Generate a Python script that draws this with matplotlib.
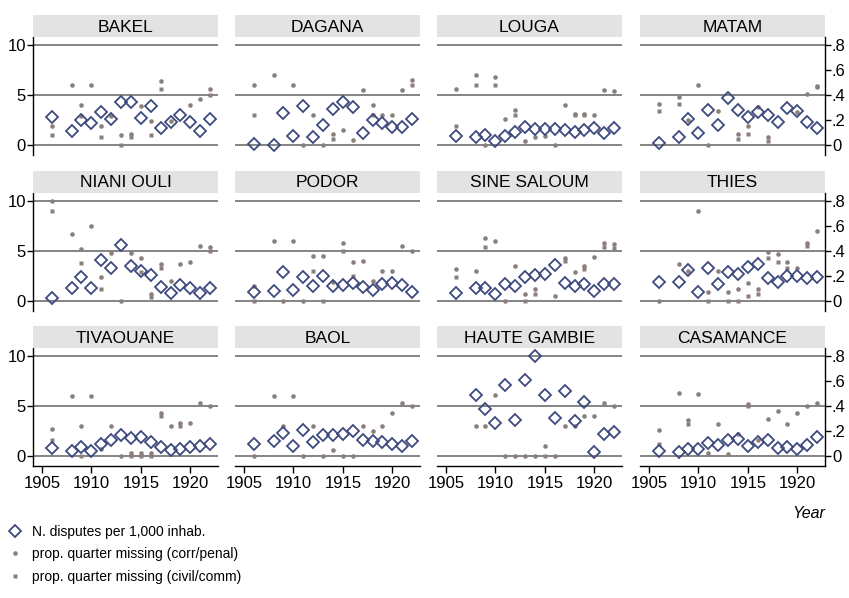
import numpy as np
import matplotlib
matplotlib.use('Agg')
import matplotlib.pyplot as plt
from matplotlib.lines import Line2D

plt.rcParams['font.family'] = ['Liberation Sans', 'DejaVu Sans']

nan = np.nan

# years with observations (1907 missing)
years = [1906] + list(range(1908, 1923))

districts = ['BAKEL', 'DAGANA', 'LOUGA', 'MATAM',
             'NIANI OULI', 'PODOR', 'SINE SALOUM', 'THIES',
             'TIVAOUANE', 'BAOL', 'HAUTE GAMBIE', 'CASAMANCE']

# N. disputes per 1,000 inhab. (left axis)
bakel_disp = [2.8, 1.43, 2.53, 2.17, 3.33, 2.63, 4.3, 4.3, 2.67, 3.93, 1.7, 2.33, 3.03, 2.27, 1.37, 2.63]
dagana_disp = [0.1, 0, 3.17, 0.9, 3.87, 0.83, 2.0, 3.6, 4.3, 3.83, 1.17, 2.53, 2.2, 1.8, 1.83, 2.57]
louga_disp = [0.87, 0.8, 1.0, 0.43, 0.93, 1.33, 1.83, 1.6, 1.63, 1.63, 1.5, 1.33, 1.47, 1.73, 1.17, 1.67]
matam_disp = [0.23, 0.83, 2.57, 1.17, 3.53, 2.0, 4.67, 3.53, 2.77, 3.3, 3.03, 2.27, 3.67, 3.43, 2.33, 1.7]
niani_disp = [0.23, 1.27, 2.37, 1.27, 4.03, 3.3, 5.57, 3.43, 2.93, 2.53, 1.37, 0.8, 1.6, 1.27, 0.8, 1.27]
podor_disp = [0.87, 1.0, 2.87, 1.1, 2.33, 1.5, 2.5, 1.43, 1.53, 1.77, 1.37, 1.07, 1.7, 1.77, 1.6, 0.9]
sine_disp = [0.8, 1.3, 1.3, 0.67, 1.67, 1.47, 2.37, 2.53, 2.67, 3.53, 1.73, 1.47, 1.63, 1.0, 1.67, 1.67]
thies_disp = [1.83, 1.9, 3.03, 0.87, 3.3, 1.7, 2.83, 2.67, 3.33, 3.7, 2.3, 1.83, 2.47, 2.43, 2.3, 2.33]
tivaouane_disp = [0.87, 0.53, 0.93, 0.5, 1.27, 1.67, 2.1, 1.87, 1.9, 1.43, 0.9, 0.67, 0.7, 0.97, 1.07, 1.23]
baol_disp = [1.27, 1.53, 2.33, 1.03, 2.6, 1.47, 2.17, 2.17, 2.27, 2.5, 1.67, 1.57, 1.47, 1.23, 1.03, 1.57]
hgambie_disp = [nan, 6.13, 4.77, 3.3, 7.13, 3.67, 7.63, 10.0, 6.13, 3.83, 6.53, 3.57, 5.43, 0.43, 2.2, 2.47]
casamance_disp = [0.53, 0.43, 0.73, 0.7, 1.37, 1.13, 1.6, 1.7, 1.07, 1.43, 1.6, 0.83, 0.9, 0.77, 1.17, 1.93]

# prop. quarter missing (corr/penal) (right axis)
bakel_corr = [.155, .48, .32, .48, .155, .23, .08, .09, .31, .19, .51, .19, nan, .32, .37, .45]
dagana_corr = [.48, .56, nan, .48, 0, .24, 0, .09, .12, .04, .44, .32, .24, .24, .44, .52]
louga_corr = [.45, .56, 0, .54, .21, .28, .03, .06, .07, 0, .32, .25, .25, .24, .44, .43]
matam_corr = [.33, .38, .2, .48, 0, .27, nan, .09, .15, .30, .06, nan, nan, .26, .41, .47]
niani_corr = [.8, .53, .41, .6, .19, .38, 0, .38, .34, .05, .29, .16, .29, .31, .44, .43]
podor_corr = [.12, .48, 0, .48, 0, .36, .36, .15, .46, .31, .32, .16, .24, .24, .44, .40]
sine_corr = [.25, .24, .50, .48, 0, .28, .05, .09, nan, .04, .34, .23, .28, .35, .46, .45]
thies_corr = [0, .29, .24, .72, .07, .24, .07, .09, .14, .09, .39, .37, .31, .26, .46, .56]
tivaouane_corr = [.22, .48, .24, .48, .06, .24, 0, .03, .03, .03, .35, .24, .27, .27, .43, .40]
baol_corr = [0, .48, .24, .48, 0, .24, 0, .05, 0, 0, .24, .20, .24, .35, .43, .40]
hgambie_corr = [nan, .24, .24, .49, 0, 0, 0, 0, .08, 0, .24, .24, .32, .32, .43, .40]
casamance_corr = [.21, .51, .29, .50, .03, .26, .02, .18, .42, .13, .30, .36, .26, .35, .40, .43]

# prop. quarter missing (civil/comm) (right axis)
bakel_civ = [.08, nan, .23, nan, .067, nan, 0, .06, nan, .08, .45, nan, nan, nan, nan, .40]
dagana_civ = [.24, nan, nan, nan, nan, nan, nan, .05, nan, nan, nan, .24, nan, nan, nan, .48]
louga_civ = [.15, .48, nan, .48, nan, .24, nan, nan, nan, nan, nan, .24, .24, nan, nan, nan]
matam_civ = [.27, .33, nan, nan, nan, nan, nan, .05, .09, nan, .03, nan, nan, nan, nan, .46]
niani_civ = [.72, nan, .30, nan, .09, nan, nan, nan, .23, .03, .26, nan, nan, nan, nan, .40]
podor_civ = [0, nan, nan, nan, nan, .24, 0, nan, .40, .20, nan, nan, nan, nan, nan, nan]
sine_civ = [.19, nan, .43, nan, nan, nan, 0, .05, nan, nan, .32, nan, .25, nan, .43, .42]
thies_civ = [nan, nan, nan, nan, 0, nan, 0, 0, .04, .05, .34, .31, .26, nan, .44, nan]
tivaouane_civ = [.13, nan, 0, nan, nan, nan, nan, 0, 0, 0, .32, nan, .24, nan, nan, nan]
baol_civ = [nan] * 16
hgambie_civ = [nan] * 8 + [0] + [nan] * 7
casamance_civ = [.10, nan, .26, nan, nan, nan, nan, nan, .40, nan, nan, nan, nan, nan, nan, nan]

disp_all = [bakel_disp, dagana_disp, louga_disp, matam_disp, niani_disp, podor_disp,
            sine_disp, thies_disp, tivaouane_disp, baol_disp, hgambie_disp, casamance_disp]
corr_all = [bakel_corr, dagana_corr, louga_corr, matam_corr, niani_corr, podor_corr,
            sine_corr, thies_corr, tivaouane_corr, baol_corr, hgambie_corr, casamance_corr]
civ_all = [bakel_civ, dagana_civ, louga_civ, matam_civ, niani_civ, podor_civ,
           sine_civ, thies_civ, tivaouane_civ, baol_civ, hgambie_civ, casamance_civ]

W, H = 849, 598
fig = plt.figure(figsize=(W / 100, H / 100), dpi=100)
fig.patch.set_facecolor('white')

# layout in pixels
col_left = [33, 235, 437, 640]
pw = 185
row_top = [37, 192.7, 348.3]
ph = 118
strip_h = 22

diam_col = '#3e4a7e'
dot_col = '#8a7f7b'
grid_col = '#707070'
ylo, yhi = -1.0, 10.8
ratio = 12.5  # left units per right unit

for k, name in enumerate(districts):
    r, c = divmod(k, 4)
    x0 = col_left[c]
    y0 = row_top[r]
    ax = fig.add_axes([x0 / W, 1 - (y0 + ph) / H, pw / W, ph / H])
    ax2 = ax.twinx()

    ax.set_xlim(1904.1, 1922.8)
    ax.set_ylim(ylo, yhi)
    ax2.set_ylim(ylo / ratio, yhi / ratio)

    for g in [0, 5, 10]:
        ax.axhline(g, color=grid_col, lw=1.2, zorder=1)

    ax2.plot(years, corr_all[k], 'o', ms=3.3, color=dot_col, mec='none', zorder=2)
    ax2.plot(years, civ_all[k], 's', ms=3.3, color=dot_col, mec='none', zorder=2)
    ax2.plot(years, disp_all[k], 'D', ms=6, mfc='none', mec=diam_col, mew=1.3,
             linestyle='none', zorder=3, transform=ax.transData)

    for a in (ax, ax2):
        for s in a.spines.values():
            s.set_visible(False)
        a.tick_params(axis='both', which='both', length=0, labelleft=False,
                      labelright=False, labelbottom=False)

    if c == 0:
        ax.spines['left'].set_visible(True)
        ax.spines['left'].set_linewidth(1.0)
        ax.set_yticks([0, 5, 10])
        ax.tick_params(axis='y', length=4, width=1, labelleft=True, labelsize=12, pad=1)
    else:
        ax.set_yticks([])
    if c == 3:
        ax2.spines['right'].set_visible(True)
        ax2.spines['right'].set_linewidth(1.0)
        ax2.set_yticks([0, .2, .4, .6, .8])
        ax2.set_yticklabels(['0', '.2', '.4', '.6', '.8'])
        ax2.tick_params(axis='y', length=4, width=1, labelright=True, labelsize=12, pad=1)
    else:
        ax2.set_yticks([])
    if r == 2:
        ax.spines['bottom'].set_visible(True)
        ax.spines['bottom'].set_linewidth(1.0)
        ax.set_xticks([1905, 1910, 1915, 1920])
        ax.tick_params(axis='x', length=5, width=1, labelbottom=True, labelsize=12, pad=2)
    else:
        ax.set_xticks([])

    # strip title
    sax = fig.add_axes([x0 / W, 1 - y0 / H, pw / W, strip_h / H])
    sax.set_facecolor('#e3e3e3')
    sax.set_xticks([])
    sax.set_yticks([])
    for s in sax.spines.values():
        s.set_visible(False)
    sax.text(0.5, 0.45, name, ha='center', va='center', fontsize=12.5, transform=sax.transAxes)

fig.text(825 / W, 1 - 514 / H, 'Year', ha='right', va='center', style='italic', fontsize=11.5)

handles = [
    Line2D([], [], marker='D', ms=6, mfc='none', mec=diam_col, mew=1.3, linestyle='none'),
    Line2D([], [], marker='o', ms=3.3, color=dot_col, mec='none', linestyle='none'),
    Line2D([], [], marker='s', ms=3.3, color=dot_col, mec='none', linestyle='none'),
]
labels = ['N. disputes per 1,000 inhab.',
          'prop. quarter missing (corr/penal)',
          'prop. quarter missing (civil/comm)']
fig.legend(handles, labels, loc='upper left', bbox_to_anchor=(7 / W, 1 - 525 / H),
           frameon=False, fontsize=10, labelspacing=0.6, handlelength=1.2,
           handletextpad=0.6, borderpad=0, borderaxespad=0)

fig.savefig('out.png', dpi=100)
